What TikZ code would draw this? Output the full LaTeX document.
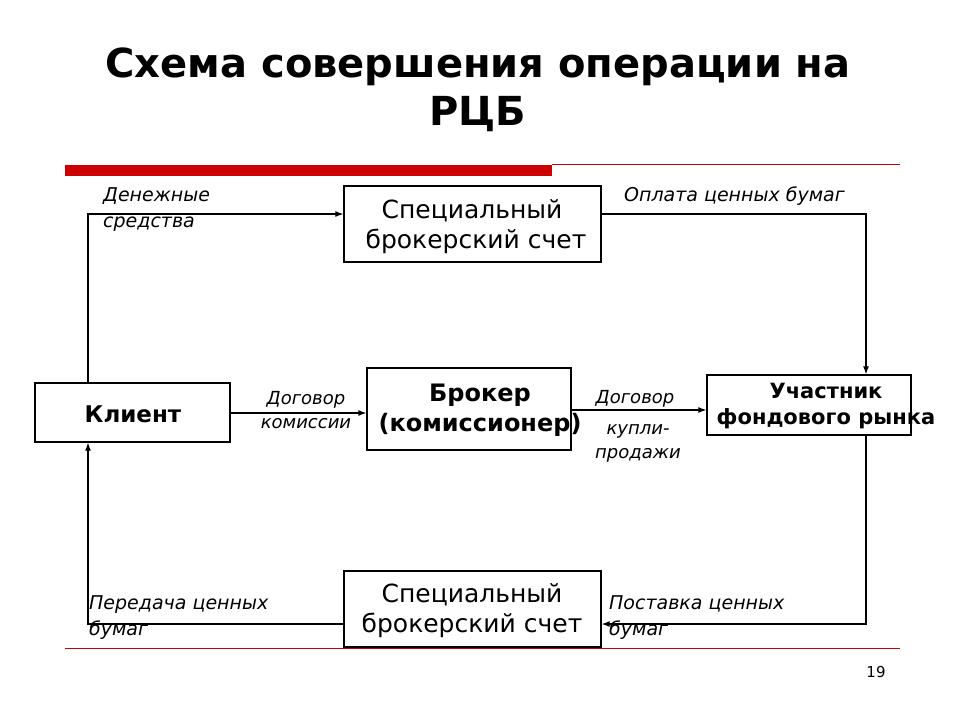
\documentclass[tikz,border=0pt]{standalone}
\usepackage{fontspec}
\usetikzlibrary{arrows.meta}
\setmainfont{DejaVu Sans}
\begin{document}
\begin{tikzpicture}[x=1pt,y=-1pt,
 box/.style={draw,line width=1.3pt,inner sep=0pt},
 lab/.style={font=\fontsize{19}{26}\selectfont\itshape,align=left,anchor=north west},
 con/.style={line width=1.2pt,-{Latex[length=8pt,width=6pt]}}]
\useasboundingbox (0,0) rectangle (960,720);
\node (title) at (478,90) [font=\fontsize{40}{48}\selectfont\bfseries,align=center] {Схема совершения операции на\\РЦБ};
\fill[red!80!black] (65,165) rectangle (552,176);
\draw[red!80!black,line width=0.8pt] (552,164) -- (900,164);
\draw[red!80!black,line width=0.8pt] (65,648) -- (900,648);
\node[box,minimum width=257,minimum height=76] (top) at (472.5,224) {};
\node at (472,227) [font=\fontsize{25}{30}\selectfont,align=center] {Специальный\\\ брокерский счет};
\node[box,minimum width=195,minimum height=59] (cl) at (132.5,412.5) {};
\node at (133,414) [font=\fontsize{23}{28}\selectfont\bfseries] {Клиент};
\node[box,minimum width=204,minimum height=82] (br) at (469,409) {};
\node at (480,410) [font=\fontsize{24}{30}\selectfont\bfseries,align=center] {Брокер\\(комиссионер)};
\node[box,minimum width=204,minimum height=60] (uc) at (809,405) {};
\node at (826,406) [font=\fontsize{21}{26}\selectfont\bfseries,align=center] {Участник\\фондового рынка};
\node[box,minimum width=257,minimum height=76] (bot) at (472.5,609) {};
\node at (472,611) [font=\fontsize{25}{30}\selectfont,align=center] {Специальный\\брокерский счет};
\coordinate (c1) at (88,214);
\coordinate (c2) at (866,214);
\coordinate (c3) at (866,624);
\coordinate (c4) at (88,624);
\draw[con] (cl.north -| c1) -- (c1) -- (c1 -| top.west);
\draw[con] (c2 -| top.east) -- (c2) -- (c2 |- uc.north);
\draw[con] (cl.east |- 0,413) -- (br.west |- 0,413);
\draw[con] (br.east |- 0,410) -- (uc.west |- 0,410);
\draw[con] (uc.south -| c3) -- (c3) -- (c3 -| bot.east);
\draw[con] (c4 -| bot.west) -- (c4) -- (c4 |- cl.south);
\node[lab,inner sep=0pt] (l1) at (103,187) {Денежные\\средства};
\node[lab,inner sep=0pt] (l2) at (624,187) {Оплата ценных бумаг};
\node[lab,font=\fontsize{18}{24}\selectfont\itshape,align=center,anchor=center] (l3) at (306,410) {Договор\\комиссии};
\node[lab,font=\fontsize{18}{24}\selectfont\itshape,anchor=center] (l4) at (635,399) {Договор};
\node[lab,font=\fontsize{18}{24}\selectfont\itshape,align=center,anchor=center] (l5) at (638,443) {купли-\\продажи};
\node[lab,inner sep=0pt] (l6) at (89,595) {Передача ценных\\бумаг};
\node[lab,inner sep=0pt] (l7) at (609,595) {Поставка ценных\\бумаг};
\node (pg) at (876,672) [font=\fontsize{15}{16}\selectfont] {19};
\end{tikzpicture}
\end{document}
